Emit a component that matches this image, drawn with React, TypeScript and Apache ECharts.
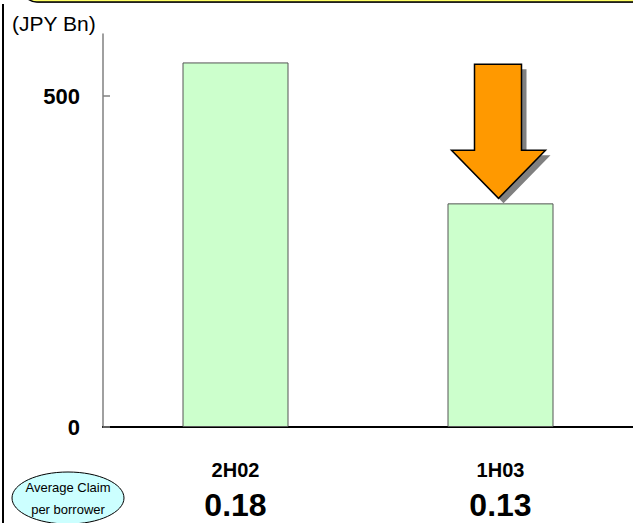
import React, { useEffect, useRef } from "react";
import * as echarts from "echarts";

// Total claims by half-year (JPY Bn)
const categories = ["2H02", "1H03"];
const claimValues = [551, 338];
// Average claim per borrower, shown under each period
const avgClaim = ["0.18", "0.13"];
const yTickValues = [0, 500];
const yMax = 594;

const SANS = "'Liberation Sans', Arial, sans-serif";

export default function App() {
  const ref = useRef<HTMLDivElement>(null);

  useEffect(() => {
    if (!ref.current) return;
    const chart = echarts.init(ref.current, null, { renderer: "svg" });

    chart.setOption({
      animation: false,
      backgroundColor: "#ffffff",
      grid: { left: 103, right: 0, top: 34, bottom: 96 },
      xAxis: {
        type: "category",
        data: categories,
        axisLine: { lineStyle: { color: "#000000", width: 2 } },
        axisTick: {
          inside: true,
          length: 9,
          lineStyle: { color: "#808080", width: 1.5 },
        },
        axisLabel: {
          margin: 28,
          formatter: (v: string, i: number) => `{cat|${v}}\n{val|${avgClaim[i]}}`,
          rich: {
            cat: {
              fontFamily: SANS,
              fontWeight: "bold",
              fontSize: 20,
              lineHeight: 30,
              color: "#000",
            },
            val: {
              fontFamily: SANS,
              fontWeight: "bold",
              fontSize: 32,
              lineHeight: 40,
              color: "#000",
            },
          },
        },
      },
      yAxis: {
        type: "value",
        min: 0,
        max: yMax,
        splitLine: { show: false },
        axisLine: { show: true, lineStyle: { color: "#808080", width: 1.5 } },
        axisTick: {
          show: true,
          inside: true,
          length: 7,
          customValues: yTickValues,
          lineStyle: { color: "#808080", width: 1.5 },
        },
        axisLabel: {
          margin: 23,
          customValues: yTickValues,
          fontFamily: SANS,
          fontWeight: "bold",
          fontSize: 22,
          color: "#000",
        },
      },
      series: [
        {
          type: "bar",
          data: claimValues,
          barWidth: 106,
          itemStyle: {
            color: "#ccffcc",
            borderColor: "#555555",
            borderWidth: 1,
          },
        },
      ],
    });

    // Down arrow sitting just above the 1H03 bar
    const [cx, barTop] = chart.convertToPixel({ seriesIndex: 0 }, [1, claimValues[1]]) as number[];
    const tipX = cx - 2;
    const tipY = barTop - 5;
    const arrowPts = (dx: number, dy: number) =>
      [
        [tipX - 24, tipY - 134],
        [tipX + 23, tipY - 134],
        [tipX + 23, tipY - 48],
        [tipX + 47, tipY - 48],
        [tipX, tipY],
        [tipX - 47, tipY - 48],
        [tipX - 24, tipY - 48],
      ].map(([x, y]) => [x + dx, y + dy]);

    chart.setOption({
      graphic: [
        // header banner edge
        {
          type: "rect",
          shape: { x: 24, y: -40, width: 640, height: 43, r: 15 },
          style: { fill: "#808080" },
          z: 10,
        },
        {
          type: "rect",
          shape: { x: 22, y: -41, width: 640, height: 43, r: 15 },
          style: { fill: "#ffff66", stroke: "#000000", lineWidth: 1.5 },
          z: 11,
        },
        // left frame line
        {
          type: "line",
          shape: { x1: 3, y1: 4, x2: 3, y2: 523 },
          style: { stroke: "#000000", lineWidth: 2 },
          z: 10,
        },
        // unit label
        {
          type: "text",
          x: 12,
          y: 23,
          style: {
            text: "(JPY Bn)",
            fontFamily: SANS,
            fontSize: 21,
            fill: "#000",
            verticalAlign: "middle",
          },
          z: 10,
        },
        // arrow shadow and arrow
        {
          type: "polygon",
          shape: { points: arrowPts(5, 5) },
          style: { fill: "#808080" },
          z: 20,
        },
        {
          type: "polygon",
          shape: { points: arrowPts(0, 0) },
          style: { fill: "#ff9900", stroke: "#000000", lineWidth: 1.5 },
          z: 21,
        },
        // "Average Claim per borrower" bubble
        {
          type: "ellipse",
          shape: { cx: 68, cy: 498, rx: 56, ry: 26 },
          style: { fill: "#ccffff", stroke: "#000000", lineWidth: 1 },
          z: 10,
        },
        {
          type: "text",
          x: 68,
          y: 487,
          style: {
            text: "Average Claim",
            fontFamily: SANS,
            fontSize: 13,
            fill: "#000",
            align: "center",
            verticalAlign: "middle",
          },
          z: 11,
        },
        {
          type: "text",
          x: 68,
          y: 509,
          style: {
            text: "per borrower",
            fontFamily: SANS,
            fontSize: 13,
            fill: "#000",
            align: "center",
            verticalAlign: "middle",
          },
          z: 11,
        },
      ],
    });

    return () => chart.dispose();
  }, []);

  return (
    <div
      ref={ref}
      style={{ position: "fixed", left: 0, top: 0, width: 633, height: 523 }}
    />
  );
}
